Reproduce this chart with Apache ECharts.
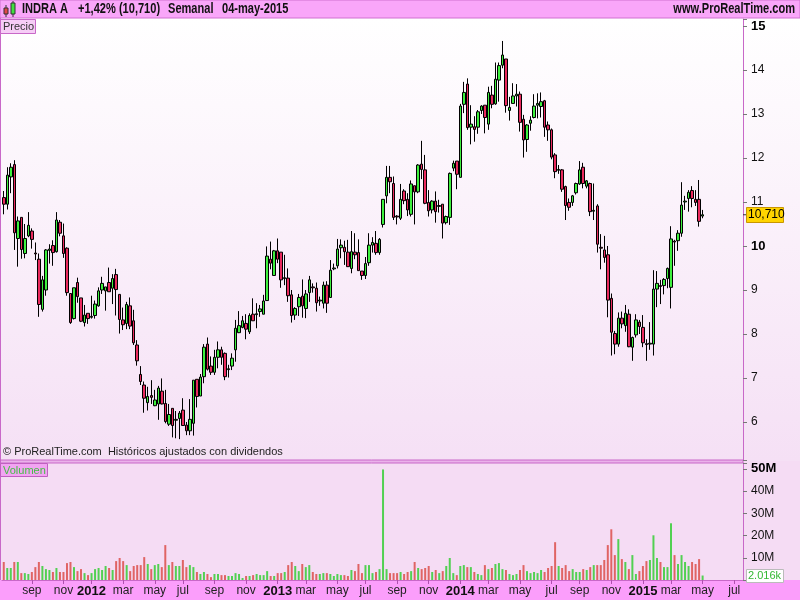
<!DOCTYPE html>
<html>
<head>
<meta charset="utf-8">
<title>INDRA A - Semanal</title>
<script src="https://cdn.jsdelivr.net/npm/echarts@6/dist/echarts.min.js"></script>
<style>
  html, body { margin: 0; padding: 0; background: #fff; }
  #chart { width: 800px; height: 600px; }
</style>
</head>
<body>
<div id="chart"></div>
<script>
// weekly bars, first one is the week of 11-jul-2011
const startDate = '2011-07-11';
const emptyWeeks = 11;
const monthNames = ['ene', 'feb', 'mar', 'abr', 'may', 'jun', 'jul', 'ago', 'sep', 'oct', 'nov', 'dic'];

const open = [
  11.10, 10.95, 11.57, 11.85, 10.17, 10.65, 9.83, 10.23, 10.34, 9.84,
  9.70, 8.56, 9.00, 9.90, 10.01, 9.87, 10.54, 10.23, 9.95, 8.92,
  8.35, 9.17, 8.82, 8.26, 8.47, 8.38, 8.42, 8.64, 9.00, 8.98,
  9.17, 9.04, 9.35, 8.90, 8.32, 8.24, 8.64, 8.30, 7.75, 7.08,
  6.84, 6.44, 6.60, 6.37, 6.41, 6.70, 6.42, 5.95, 6.31, 6.04,
  6.08, 6.27, 5.93, 5.80, 5.97, 6.97, 6.59, 7.03, 7.77, 7.27,
  7.13, 7.47, 7.64, 7.56, 7.19, 7.27, 7.64, 8.03, 8.15, 8.24,
  8.05, 8.45, 8.44, 8.51, 8.45, 8.76, 9.70, 9.33, 9.89, 9.86,
  9.26, 9.27, 8.89, 8.43, 8.62, 8.86, 8.58, 8.94, 9.07, 9.04,
  8.75, 8.70, 9.11, 8.83, 9.48, 9.55, 9.96, 9.97, 9.86, 9.49,
  9.86, 9.85, 9.43, 9.33, 9.62, 10.02, 10.06, 9.85, 10.49, 11.14,
  11.56, 11.42, 10.68, 10.63, 11.25, 11.06, 10.72, 11.37, 11.23, 11.86,
  11.73, 10.99, 10.82, 11.02, 10.90, 10.95, 10.53, 10.65, 11.77, 11.93,
  11.56, 13.22, 13.68, 12.70, 12.71, 12.70, 13.08, 13.20, 12.77, 13.43,
  13.23, 13.77, 14.11, 14.25, 13.08, 13.24, 13.41, 13.45, 12.88, 12.42,
  12.79, 12.92, 13.20, 13.17, 13.30, 12.75, 12.64, 12.07, 11.72, 11.73,
  11.35, 10.99, 10.99, 11.21, 11.41, 11.79, 11.36, 11.42, 10.79, 10.91,
  9.97, 9.91, 9.80, 8.81, 8.01, 7.77, 8.36, 8.19, 8.45, 7.70,
  7.98, 8.27, 8.15, 7.78, 7.77, 7.77, 9.02, 9.10, 9.10, 9.26,
  9.06, 10.11, 10.12, 10.29, 11.00, 11.08, 11.26, 11.06, 11.06, 10.68
];
const high = [
  11.25, 11.79, 11.88, 11.95, 10.67, 10.65, 10.50, 10.77, 10.40, 10.08,
  9.83, 9.32, 9.93, 10.04, 10.13, 10.77, 10.59, 10.51, 9.97, 8.92,
  9.05, 9.28, 8.82, 8.66, 8.47, 8.87, 8.76, 9.06, 9.30, 9.07,
  9.51, 9.36, 9.48, 8.90, 8.60, 8.73, 8.83, 8.55, 7.86, 7.27,
  6.92, 6.80, 6.95, 6.73, 6.82, 6.99, 6.73, 6.41, 6.31, 6.25,
  6.25, 6.54, 6.00, 6.52, 6.95, 6.97, 7.09, 7.77, 7.92, 7.49,
  7.64, 7.83, 7.71, 7.58, 7.30, 7.56, 8.32, 8.52, 8.41, 8.45,
  8.47, 8.81, 8.70, 8.66, 8.89, 9.99, 10.10, 9.91, 10.17, 9.86,
  9.80, 9.49, 9.00, 8.61, 8.91, 9.24, 9.00, 9.32, 9.15, 9.17,
  8.85, 9.19, 9.20, 9.68, 9.60, 10.16, 10.15, 10.12, 10.14, 10.34,
  10.29, 10.15, 9.43, 9.75, 10.29, 10.20, 10.34, 10.18, 11.06, 11.82,
  11.82, 11.58, 10.70, 11.41, 11.29, 11.20, 11.49, 11.37, 11.86, 12.39,
  12.07, 11.27, 11.04, 11.24, 11.05, 10.95, 10.69, 11.67, 11.94, 11.93,
  13.23, 13.73, 13.81, 13.20, 12.95, 13.09, 13.20, 13.20, 13.62, 13.64,
  14.17, 14.17, 14.66, 14.25, 13.39, 13.70, 13.68, 13.51, 12.98, 12.77,
  12.95, 13.45, 13.47, 13.49, 13.32, 12.83, 12.67, 12.11, 11.84, 11.75,
  11.37, 11.08, 11.16, 11.44, 11.93, 11.89, 11.50, 11.44, 11.42, 10.95,
  10.27, 10.23, 10.00, 8.92, 8.07, 8.49, 8.51, 8.66, 8.56, 7.94,
  8.45, 8.32, 8.43, 7.88, 8.27, 9.45, 9.43, 9.23, 9.27, 9.51,
  10.45, 10.14, 10.36, 11.45, 11.14, 11.27, 11.36, 11.27, 11.50, 10.82
];
const low = [
  10.72, 10.83, 11.20, 9.91, 9.53, 9.71, 9.72, 10.20, 9.94, 9.68,
  8.39, 8.51, 8.87, 9.60, 9.55, 9.85, 10.22, 9.73, 8.87, 8.23,
  8.33, 8.71, 8.27, 8.17, 8.23, 8.35, 8.35, 8.62, 8.91, 8.53,
  8.96, 8.68, 8.42, 8.01, 8.09, 8.11, 8.11, 7.75, 7.28, 6.84,
  6.21, 6.26, 6.41, 6.36, 6.05, 6.40, 5.97, 5.91, 5.65, 5.63,
  5.61, 5.92, 5.70, 5.70, 5.69, 6.33, 6.59, 6.88, 7.17, 7.07,
  7.07, 7.22, 7.30, 6.95, 7.01, 7.18, 7.37, 8.02, 8.13, 7.88,
  8.00, 8.30, 8.13, 8.39, 8.45, 8.76, 9.47, 9.33, 9.61, 9.05,
  9.11, 8.73, 8.26, 8.32, 8.41, 8.37, 8.36, 8.73, 8.94, 8.51,
  8.64, 8.58, 8.48, 8.83, 9.45, 9.49, 9.72, 9.57, 9.53, 9.38,
  9.70, 9.44, 9.23, 9.25, 9.55, 9.85, 9.80, 9.80, 10.42, 10.97,
  11.20, 10.59, 10.49, 10.59, 10.95, 10.68, 10.67, 10.49, 11.20, 11.52,
  10.95, 10.67, 10.74, 10.53, 10.76, 10.17, 10.49, 10.48, 11.70, 11.29,
  11.56, 13.02, 12.64, 12.31, 12.37, 12.55, 13.00, 12.56, 12.64, 13.13,
  13.21, 13.28, 14.04, 13.03, 12.85, 13.24, 13.17, 12.60, 12.01, 12.14,
  12.62, 12.90, 12.90, 12.92, 12.48, 12.39, 11.97, 11.54, 11.64, 11.23,
  10.59, 10.80, 10.91, 11.17, 11.39, 11.31, 11.31, 10.68, 10.59, 9.85,
  9.47, 9.62, 8.38, 7.51, 7.54, 7.71, 8.13, 8.05, 7.70, 7.39,
  7.92, 8.00, 7.70, 7.39, 7.64, 7.51, 8.61, 8.68, 8.90, 9.04,
  8.58, 9.55, 9.89, 10.21, 10.82, 10.78, 10.88, 10.91, 10.44, 10.63
];
const close = [
  10.95, 11.61, 11.79, 10.30, 10.57, 9.92, 10.17, 10.47, 10.15, 9.82,
  8.67, 9.23, 9.91, 9.93, 9.85, 10.59, 10.29, 9.83, 8.94, 8.26,
  9.05, 8.85, 8.29, 8.43, 8.35, 8.40, 8.68, 8.98, 9.15, 9.07,
  8.96, 9.26, 9.01, 8.33, 8.21, 8.67, 8.18, 7.80, 7.39, 6.92,
  6.54, 6.58, 6.56, 6.50, 6.77, 6.41, 6.01, 6.17, 5.92, 6.06,
  6.20, 5.92, 5.80, 6.06, 6.95, 6.58, 7.02, 7.70, 7.20, 7.13,
  7.47, 7.64, 7.47, 7.03, 7.21, 7.45, 8.13, 8.19, 8.30, 8.11,
  8.42, 8.30, 8.46, 8.57, 8.75, 9.77, 9.61, 9.89, 9.70, 9.23,
  9.28, 8.87, 8.42, 8.58, 8.83, 8.64, 8.91, 9.23, 9.05, 8.71,
  8.77, 9.11, 8.70, 9.45, 9.50, 9.93, 10.02, 9.87, 9.53, 9.87,
  9.80, 9.44, 9.33, 9.60, 10.02, 10.08, 9.85, 10.15, 11.06, 11.56,
  11.46, 10.65, 10.66, 11.06, 11.03, 10.82, 11.41, 11.23, 11.84, 11.74,
  10.97, 10.80, 11.02, 10.78, 10.92, 10.52, 10.67, 11.65, 11.88, 11.63,
  13.18, 13.49, 12.69, 12.77, 12.65, 13.05, 13.18, 12.92, 13.49, 13.22,
  13.79, 14.10, 14.34, 13.19, 13.15, 13.41, 13.45, 12.81, 12.41, 12.75,
  12.86, 13.18, 13.24, 13.28, 12.70, 12.64, 12.02, 11.69, 11.74, 11.29,
  10.92, 10.88, 11.14, 11.42, 11.73, 11.42, 11.48, 10.78, 10.81, 10.04,
  9.95, 9.74, 8.77, 8.04, 7.77, 8.36, 8.23, 8.47, 7.71, 7.92,
  8.32, 8.17, 7.80, 7.76, 7.79, 9.02, 9.15, 9.08, 9.24, 9.49,
  10.16, 10.09, 10.29, 10.93, 11.02, 11.22, 11.08, 10.99, 10.56, 10.71
];
// millions of shares
const volume = [
  8.1, 5.4, 5.4, 8.1, 8.1, 3.1, 3.1, 2.7, 3.6, 5.8,
  8.1, 6.3, 4.9, 4.5, 3.6, 5.4, 3.6, 3.6, 7.6, 8.1,
  5.8, 4.0, 4.9, 3.1, 2.2, 3.1, 4.9, 5.4, 4.5, 6.3,
  5.4, 4.5, 8.5, 9.9, 8.5, 6.7, 4.0, 6.3, 6.7, 6.7,
  10.3, 7.2, 4.9, 6.7, 7.2, 5.8, 15.7, 6.7, 8.1, 6.3,
  6.3, 9.0, 5.8, 6.7, 5.8, 3.6, 2.7, 3.6, 2.7, 1.3,
  2.7, 2.7, 2.2, 2.2, 1.8, 1.8, 3.1, 2.7, 0.9, 1.8,
  1.8, 2.2, 2.7, 2.2, 2.2, 4.0, 1.8, 1.8, 3.1, 3.1,
  3.6, 6.7, 8.1, 6.3, 4.0, 7.2, 5.8, 6.7, 3.6, 2.7,
  2.7, 3.1, 3.1, 2.7, 1.8, 2.7, 2.2, 2.2, 1.8, 4.5,
  4.0, 7.2, 3.1, 6.7, 6.7, 3.1, 3.6, 4.9, 49.7, 4.9,
  3.1, 3.1, 3.1, 3.6, 2.7, 3.6, 4.0, 8.1, 5.4, 4.9,
  5.4, 6.3, 3.6, 4.5, 3.1, 4.0, 6.3, 9.9, 3.1, 2.2,
  6.3, 6.7, 5.8, 5.8, 3.6, 2.7, 2.2, 6.7, 4.9, 5.4,
  7.2, 7.6, 4.9, 4.5, 2.7, 2.2, 2.7, 4.5, 6.7, 4.0,
  3.1, 3.6, 3.1, 4.5, 3.6, 5.4, 6.3, 17.0, 6.3, 5.4,
  6.7, 4.0, 4.9, 3.6, 3.6, 4.9, 4.5, 5.8, 6.7, 6.7,
  6.7, 9.0, 15.7, 22.8, 11.2, 18.4, 9.4, 8.1, 4.9, 11.2,
  2.7, 4.0, 6.3, 8.5, 9.0, 20.1, 9.9, 8.1, 5.8, 5.8,
  25.5, 11.2, 7.2, 11.2, 8.1, 6.3, 8.1, 7.2, 9.4, 2.016
];

const UP = '#3ef03e';
const DOWN = '#ea2a5e';
const VOL_UP = '#52d052';
const VOL_DOWN = '#e06464';
const LINE = '#c868c8';
const SANS = "'Liberation Sans', Arial, sans-serif";
const NARROW_SCALE = 0.79; // squeeze Liberation Sans to look like the narrow header font

// weekly date categories, including the empty weeks on the right
const dates = [];
const t0 = new Date(startDate + 'T00:00:00Z').getTime();
for (let i = 0; i < open.length + emptyWeeks; i++) {
  dates.push(new Date(t0 + i * 7 * 86400000).toISOString().slice(0, 10));
}

const isLabelWeek = (index, value) => {
  const m = +value.slice(5, 7);
  const d = +value.slice(8, 10);
  return d <= 7 && m % 2 === 1;
};

const n = close.length;
const last = close[n - 1];
const change = (last / close[n - 2] - 1) * 100;
const fmt = (v, d) => v.toFixed(d).replace('.', ',');
const lastDate = dates[n - 1];
const dateText = lastDate.slice(8, 10) + '-' + monthNames[+lastDate.slice(5, 7) - 1] + '-' + lastDate.slice(0, 4);
const volText = (() => {
  const k = String(Math.round(volume[n - 1] * 1000));
  return k.replace(/\B(?=(\d{3})+(?!\d))/g, '.') + 'k';
})();

const headerText = (x, text, align) => ({
  type: 'text', z: 7, x: x, y: 9, scaleX: NARROW_SCALE,
  style: { text: text, font: 'bold 14px ' + SANS, fill: '#111', textAlign: align || 'left', textVerticalAlign: 'middle' }
});

const chart = echarts.init(document.getElementById('chart'));

const option = {
  animation: false,
  backgroundColor: '#fff',
  grid: [
    { left: 2, right: 57, top: 19, height: 441 },
    { left: 2, right: 57, top: 463, height: 117 }
  ],
  xAxis: [
    {
      type: 'category', gridIndex: 0, data: dates, boundaryGap: true,
      axisLine: { show: false }, axisTick: { show: false }, axisLabel: { show: false },
      splitLine: { show: false }
    },
    {
      type: 'category', gridIndex: 1, data: dates, boundaryGap: true,
      axisLine: { show: true, lineStyle: { color: LINE, width: 1 } },
      axisTick: { show: true, interval: isLabelWeek, length: 4, alignWithLabel: true, lineStyle: { color: '#b050b0' } },
      axisLabel: {
        show: true, interval: isLabelWeek, margin: 5,
        color: '#222', fontFamily: SANS, fontSize: 12,
        formatter: v => {
          const m = +v.slice(5, 7);
          return m === 1 ? '{y|' + v.slice(0, 4) + '}' : monthNames[m - 1];
        },
        rich: { y: { fontFamily: SANS, fontSize: 13, fontWeight: 'bold', color: '#111' } }
      },
      splitLine: { show: false }
    }
  ],
  yAxis: [
    {
      type: 'value', gridIndex: 0, position: 'right',
      min: 5.136, max: 15.159, splitNumber: 10, minInterval: 1, maxInterval: 1,
      axisLine: { show: true, lineStyle: { color: LINE } },
      axisTick: { show: true, length: 4, lineStyle: { color: '#777' } },
      axisLabel: {
        margin: 8, color: '#111', fontFamily: SANS, fontSize: 12,
        formatter: v => {
          const r = Math.round(v);
          if (Math.abs(v - r) > 1e-6) return '';
          return (r === 15 || r === 10) ? '{b|' + r + '}' : String(r);
        },
        rich: { b: { fontFamily: SANS, fontSize: 13, fontWeight: 'bold', color: '#000' } }
      },
      splitLine: { show: false }
    },
    {
      type: 'value', gridIndex: 1, position: 'right',
      min: 0, max: 52.6, interval: 10,
      axisLine: { show: true, lineStyle: { color: LINE } },
      axisTick: { show: true, length: 4, lineStyle: { color: '#777' } },
      axisLabel: {
        margin: 8, color: '#111', fontFamily: SANS, fontSize: 12,
        formatter: v => {
          if (v <= 0 || v > 50) return '';
          return v === 50 ? '{b|50M}' : v + 'M';
        },
        rich: { b: { fontFamily: SANS, fontSize: 13, fontWeight: 'bold', color: '#000' } }
      },
      splitLine: { show: false }
    }
  ],
  series: [
    {
      name: 'INDRA A', type: 'candlestick', xAxisIndex: 0, yAxisIndex: 0,
      data: open.map((o, i) => [o, close[i], low[i], high[i]]),
      barWidth: 3,
      itemStyle: {
        color: UP, color0: DOWN,
        borderColor: '#000', borderColor0: '#000', borderColorDoji: '#000',
        borderWidth: 1
      },
      emphasis: { disabled: true }
    },
    {
      name: 'Volumen', type: 'bar', xAxisIndex: 1, yAxisIndex: 1,
      barWidth: 2,
      data: volume.map((v, i) => ({
        value: v,
        itemStyle: { color: close[i] >= open[i] ? VOL_UP : VOL_DOWN }
      })),
      emphasis: { disabled: true }
    }
  ],
  graphic: [
    // pane backgrounds
    { type: 'rect', z: -10, shape: { x: 0, y: 18, width: 800, height: 443 },
      style: { fill: new echarts.graphic.LinearGradient(0, 0, 0, 1, [
        { offset: 0, color: '#ffffff' }, { offset: 1, color: '#f5e0f5' }]) } },
    { type: 'rect', z: -10, shape: { x: 0, y: 461, width: 800, height: 120 }, style: { fill: '#f5dcf4' } },
    { type: 'rect', z: -9, shape: { x: 0, y: 460, width: 743, height: 3 }, style: { fill: '#eab2ea', stroke: LINE, lineWidth: 1 } },
    { type: 'line', z: -9, shape: { x1: 0.5, y1: 18, x2: 0.5, y2: 580 }, style: { stroke: LINE, lineWidth: 1 } },
    // header
    { type: 'rect', z: 5, shape: { x: 0, y: 0, width: 800, height: 18 }, style: { fill: '#f9a6f9', stroke: '#d070d0', lineWidth: 1 } },
    { type: 'line', z: 6, shape: { x1: 6, y1: 5, x2: 6, y2: 17 }, style: { stroke: '#333', lineWidth: 1 } },
    { type: 'rect', z: 7, shape: { x: 4, y: 8, width: 4, height: 6 }, style: { fill: '#e04848', stroke: '#333', lineWidth: 1 } },
    { type: 'line', z: 6, shape: { x1: 13, y1: 1, x2: 13, y2: 17 }, style: { stroke: '#333', lineWidth: 1 } },
    { type: 'rect', z: 7, shape: { x: 11, y: 3, width: 4, height: 11 }, style: { fill: '#40e040', stroke: '#333', lineWidth: 1 } },
    headerText(22, 'INDRA A'),
    headerText(78, (change >= 0 ? '+' : '') + fmt(change, 2) + '% (' + fmt(last, 3) + ')'),
    headerText(168, 'Semanal'),
    headerText(222, dateText),
    headerText(795, 'www.ProRealTime.com', 'right'),
    // bottom axis band
    { type: 'rect', z: -10, shape: { x: 0, y: 580, width: 800, height: 20 }, style: { fill: '#fb9efb' } },
    // pane titles
    { type: 'rect', z: 5, shape: { x: 0.5, y: 19.5, width: 35, height: 14 }, style: { fill: '#f6cdf6', stroke: LINE, lineWidth: 1 } },
    { type: 'text', z: 6, x: 3, y: 27, style: { text: 'Precio', font: '11px ' + SANS, fill: '#333', textVerticalAlign: 'middle' } },
    { type: 'rect', z: 5, shape: { x: 0.5, y: 463.5, width: 47, height: 13 }, style: { fill: '#f2a4f2', stroke: '#c060c0', lineWidth: 1 } },
    { type: 'text', z: 6, x: 3, y: 470.5, style: { text: 'Volumen', font: '11px ' + SANS, fill: '#44c044', textVerticalAlign: 'middle' } },
    { type: 'text', z: 6, x: 3, y: 452, style: { text: '\u00a9 ProRealTime.com  Hist\u00f3ricos ajustados con dividendos', font: '11px ' + SANS, fill: '#222', textVerticalAlign: 'middle' } }
  ]
};

chart.setOption(option);

// value tags on the right axis, placed through the axis scales
const yPrice = chart.convertToPixel({ yAxisIndex: 0 }, last);
const yVol = chart.convertToPixel({ yAxisIndex: 1 }, volume[n - 1]);
chart.setOption({
  graphic: option.graphic.concat([
    { type: 'line', z: 8, shape: { x1: 743, y1: yPrice, x2: 747, y2: yPrice }, style: { stroke: '#333', lineWidth: 1 } },
    { type: 'rect', z: 8, shape: { x: 746.5, y: Math.round(yPrice) - 7.5, width: 37, height: 15 }, style: { fill: '#ffd400', stroke: '#c89600', lineWidth: 1 } },
    { type: 'text', z: 9, x: 748, y: yPrice, style: { text: fmt(last, 3), font: '12px ' + SANS, fill: '#000', textVerticalAlign: 'middle' } },
    { type: 'rect', z: 8, shape: { x: 746.5, y: Math.round(yVol) - 6.5, width: 37, height: 13 }, style: { fill: '#ffffff', stroke: '#bbbbbb', lineWidth: 1 } },
    { type: 'text', z: 9, x: 748, y: yVol, style: { text: volText, font: '11px ' + SANS, fill: '#33b833', textVerticalAlign: 'middle' } }
  ])
});

window.addEventListener('resize', () => chart.resize());
</script>
</body>
</html>
